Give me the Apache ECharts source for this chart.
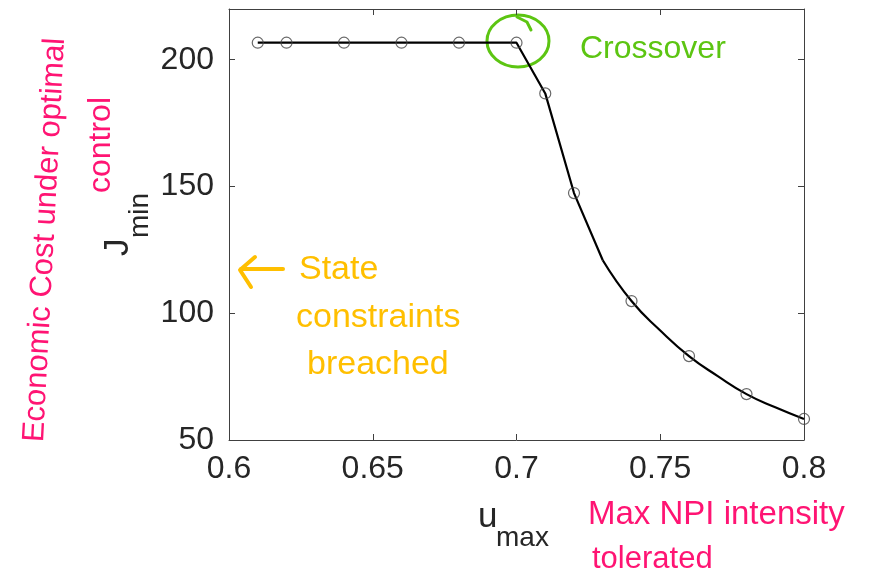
<!DOCTYPE html>
<html><head><meta charset="utf-8">
<script src="https://cdn.jsdelivr.net/npm/echarts@6/dist/echarts.min.js"></script>
<style>html,body{margin:0;padding:0;background:#fff}#c{width:871px;height:577px}</style>
</head><body><div id="c"></div>
<script>
// ---- data ----
const xTicks = [0.6, 0.65, 0.7, 0.75, 0.8];
const yTicks = [50, 100, 150, 200];
const markerX = [0.61, 0.62, 0.64, 0.66, 0.68, 0.70, 0.71, 0.72, 0.74, 0.76, 0.78, 0.80];
const markerY = [206.7, 206.7, 206.7, 206.7, 206.7, 206.7, 186.7, 147.4, 104.8, 83.1, 68.1, 58.3];
const lineX1 = [0.61, 0.62, 0.64, 0.66, 0.68, 0.70, 0.71, 0.72, 0.73];
const lineY1 = [206.7, 206.7, 206.7, 206.7, 206.7, 206.7, 186.7, 147.4, 120.9];
const lineX2 = [0.73, 0.74, 0.75, 0.76, 0.77, 0.78, 0.79, 0.80];
const lineY2 = [120.9, 104.8, 93.2, 83.1, 75.2, 68.1, 62.9, 58.3];

const zip = (xs, ys) => xs.map((x, i) => [x, ys[i]]);
const FONT = '"Liberation Sans", Arial, Helvetica, sans-serif';
const AX = '#404040', TXT = '#262626';
const PINK = '#ff1473', ORANGE = '#ffbf00', GREEN = '#5cc512';

const chart = echarts.init(document.getElementById('c'), null, {renderer: 'canvas'});

function xAxisCfg(pos, labels) {
  return {
    type: 'value', position: pos, min: 0.6, max: 0.8, interval: 0.05,
    axisLine: {show: true, onZero: false, lineStyle: {color: AX, width: 1}},
    axisTick: {show: true, inside: true, length: 6, customValues: xTicks, lineStyle: {color: AX}},
    axisLabel: {show: labels, customValues: xTicks, fontSize: 32, fontFamily: FONT, color: TXT, margin: 13},
    splitLine: {show: false}
  };
}
function yAxisCfg(pos, labels) {
  return {
    type: 'value', position: pos, min: 50, max: 220, interval: 50,
    axisLine: {show: true, onZero: false, lineStyle: {color: AX, width: 1}},
    axisTick: {show: true, inside: true, length: 6, customValues: yTicks, lineStyle: {color: AX}},
    axisLabel: {show: labels, customValues: yTicks, fontSize: 32, fontFamily: FONT, color: TXT, margin: 15},
    splitLine: {show: false}
  };
}

const txt = (text, x, y, size, color, extra) => Object.assign({
  type: 'text', x: x, y: y, silent: true,
  style: {text: text, fontSize: size, fontFamily: FONT, fill: color, align: 'left', verticalAlign: 'middle'}
}, extra || {});

chart.setOption({
  animation: false,
  backgroundColor: '#fff',
  grid: {left: 229, right: 67, top: 9, bottom: 137, containLabel: false, outerBoundsMode: 'none'},
  xAxis: [xAxisCfg('bottom', true), xAxisCfg('top', false)],
  yAxis: [yAxisCfg('left', true), yAxisCfg('right', false)],
  series: [
    {type: 'line', data: zip(lineX1, lineY1), showSymbol: false, symbol: 'none',
     lineStyle: {color: '#000', width: 2.2}, xAxisIndex: 0, yAxisIndex: 0},
    {type: 'line', data: zip(lineX2, lineY2), showSymbol: false, symbol: 'none', smooth: 0.5,
     lineStyle: {color: '#000', width: 2.2}, xAxisIndex: 0, yAxisIndex: 0},
    {type: 'scatter', data: zip(markerX, markerY), symbol: 'circle', symbolSize: 11, clip: false,
     itemStyle: {color: 'rgba(0,0,0,0)', borderColor: '#444', borderWidth: 1.2},
     xAxisIndex: 0, yAxisIndex: 0, z: 5}
  ],
  graphic: [
    // axis titles
    txt('J', 118, 256, 35, TXT, {rotation: Math.PI / 2}),
    txt('min', 140, 238, 28, TXT, {rotation: Math.PI / 2}),
    txt('u', 478, 517, 35, TXT),
    txt('max', 496, 538, 28, TXT),
    // green crossover annotation
    {type: 'ellipse', silent: true, shape: {cx: 518, cy: 41, rx: 31, ry: 26},
     style: {fill: 'none', stroke: GREEN, lineWidth: 3}},
    {type: 'polyline', silent: true, shape: {points: [[517, 17], [527, 22], [531, 30]]},
     style: {fill: 'none', stroke: GREEN, lineWidth: 3, lineCap: 'round'}},
    txt('Crossover', 580, 49, 32, GREEN),
    // orange state constraints annotation
    {type: 'polyline', silent: true, shape: {points: [[283, 269], [241, 269]]},
     style: {fill: 'none', stroke: ORANGE, lineWidth: 4, lineCap: 'round'}},
    {type: 'polyline', silent: true, shape: {points: [[255, 257], [240, 270], [251, 287]]},
     style: {fill: 'none', stroke: ORANGE, lineWidth: 4, lineCap: 'round', lineJoin: 'round'}},
    txt('State', 299, 270, 34, ORANGE),
    txt('constraints', 296, 318, 34, ORANGE),
    txt('breached', 307, 365, 34, ORANGE),
    // pink annotations
    txt('Max NPI intensity', 588, 515, 33, PINK),
    txt('tolerated', 592, 559, 31, PINK),
    txt('Economic Cost under optimal', 45, 240, 31, PINK,
        {rotation: Math.PI * 87 / 180, style: {text: 'Economic Cost under optimal', fontSize: 31, fontFamily: FONT, fill: PINK, align: 'center', verticalAlign: 'middle'}}),
    txt('control', 101, 145, 32, PINK,
        {rotation: Math.PI / 2, style: {text: 'control', fontSize: 32, fontFamily: FONT, fill: PINK, align: 'center', verticalAlign: 'middle'}})
  ]
});
</script>
</body></html>
